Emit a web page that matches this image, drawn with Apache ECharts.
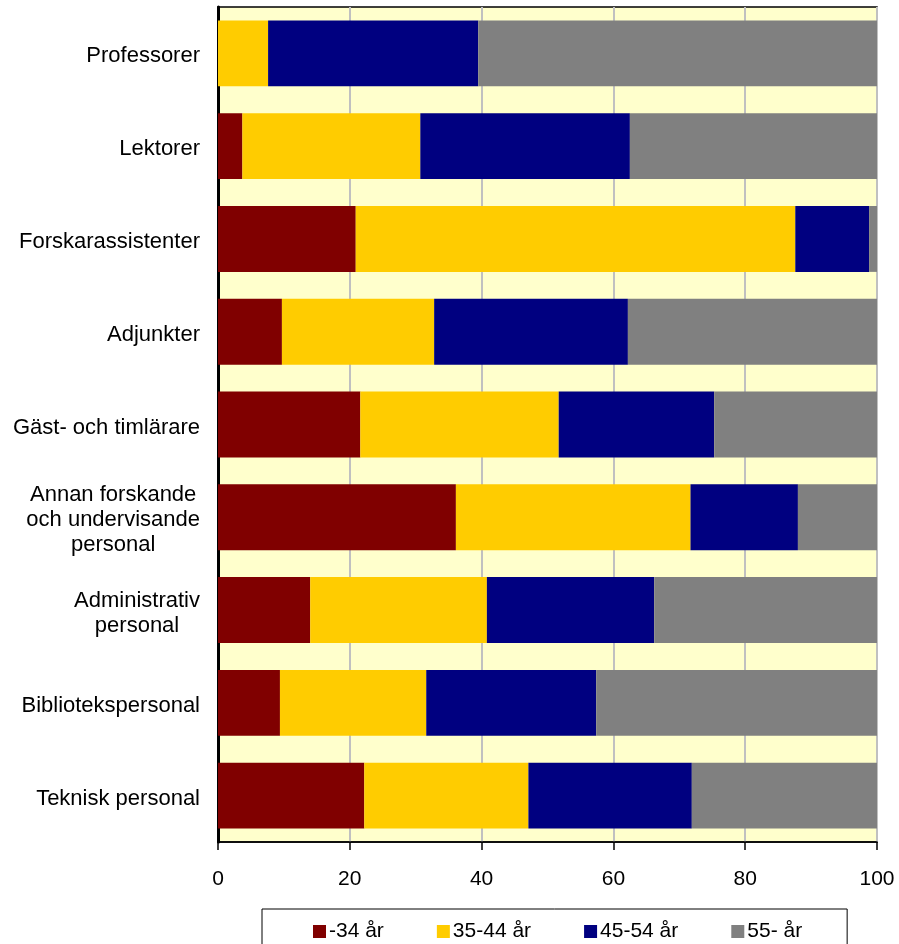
<!DOCTYPE html>
<html>
<head>
<meta charset="utf-8">
<script src="https://cdn.jsdelivr.net/npm/echarts@6/dist/echarts.min.js"></script>
<style>
html,body{margin:0;padding:0;background:#fff;}
#chart{width:899px;height:944px;}
</style>
</head>
<body>
<div id="chart"></div>
<script>
const categories = [
  'Professorer',
  'Lektorer',
  'Forskarassistenter',
  'Adjunkter',
  'Gäst- och timlärare',
  'Annan forskande\noch undervisande\npersonal',
  'Administrativ\npersonal',
  'Bibliotekspersonal',
  'Teknisk personal'
];
const seriesNames = ['-34 år', '35-44 år', '45-54 år', '55- år'];
const age34 =   [0,    3.7, 20.9,  9.7, 21.6, 36.1, 14.0,  9.4, 22.2];
const age3544 = [7.6, 27.0, 66.7, 23.1, 30.1, 35.6, 26.8, 22.2, 24.9];
const age4554 = [31.9, 31.8, 11.2, 29.4, 23.6, 16.3, 25.4, 25.8, 24.8];
const age55 =   [60.5, 37.5,  1.2, 37.8, 24.7, 12.0, 33.8, 42.6, 28.1];
const xTicks = [0, 20, 40, 60, 80, 100];
const colors = ['#800000', '#ffcc00', '#000080', '#808080'];
const values = [age34, age3544, age4554, age55];

const font = '"Liberation Sans", Arial, sans-serif';
const chart = echarts.init(document.getElementById('chart'));
chart.setOption({
  animation: false,
  textStyle: { fontFamily: font, color: '#000' },
  grid: {
    left: 218, right: 22, top: 7, bottom: 102,
    show: true, backgroundColor: '#ffffcc', borderColor: '#000', borderWidth: 1.5
  },
  xAxis: {
    type: 'value', min: xTicks[0], max: xTicks[xTicks.length - 1], interval: 20,
    axisLine: { show: true, lineStyle: { color: '#000', width: 1.5 } },
    axisTick: { show: true, length: 8, inside: false, lineStyle: { color: '#000', width: 1.5 } },
    axisLabel: { fontSize: 21, color: '#000', fontFamily: font, margin: 27 },
    splitLine: { show: true, lineStyle: { color: '#c0c0c0', width: 2 } }
  },
  yAxis: {
    type: 'category', data: categories, inverse: true,
    axisLine: { show: true, lineStyle: { color: '#000', width: 3 } },
    axisTick: { show: false },
    axisLabel: {
      margin: 18, align: 'right', fontSize: 22, color: '#000', fontFamily: font,
      padding: [6, 0, 0, 0],
      formatter: function (v) { return v.split('\n').map(function (l) { return '{c|' + l + '}'; }).join('\n'); },
      rich: { c: { align: 'center', fontSize: 22, lineHeight: 25, fontFamily: font, color: '#000' } }
    }
  },
  legend: {
    left: 262, top: 909,
    padding: [12, 45, 20, 51],
    itemWidth: 13, itemHeight: 13, itemGap: 53,
    borderColor: '#000', borderWidth: 1,
    icon: 'rect',
    textStyle: { fontSize: 21, color: '#000', fontFamily: font, padding: [0, 0, 0, -2] },
    data: seriesNames
  },
  series: seriesNames.map(function (n, i) {
    return {
      name: n, type: 'bar', stack: 'total', data: values[i],
      barCategoryGap: '29%',
      itemStyle: { color: colors[i] }
    };
  })
});
</script>
</body>
</html>
